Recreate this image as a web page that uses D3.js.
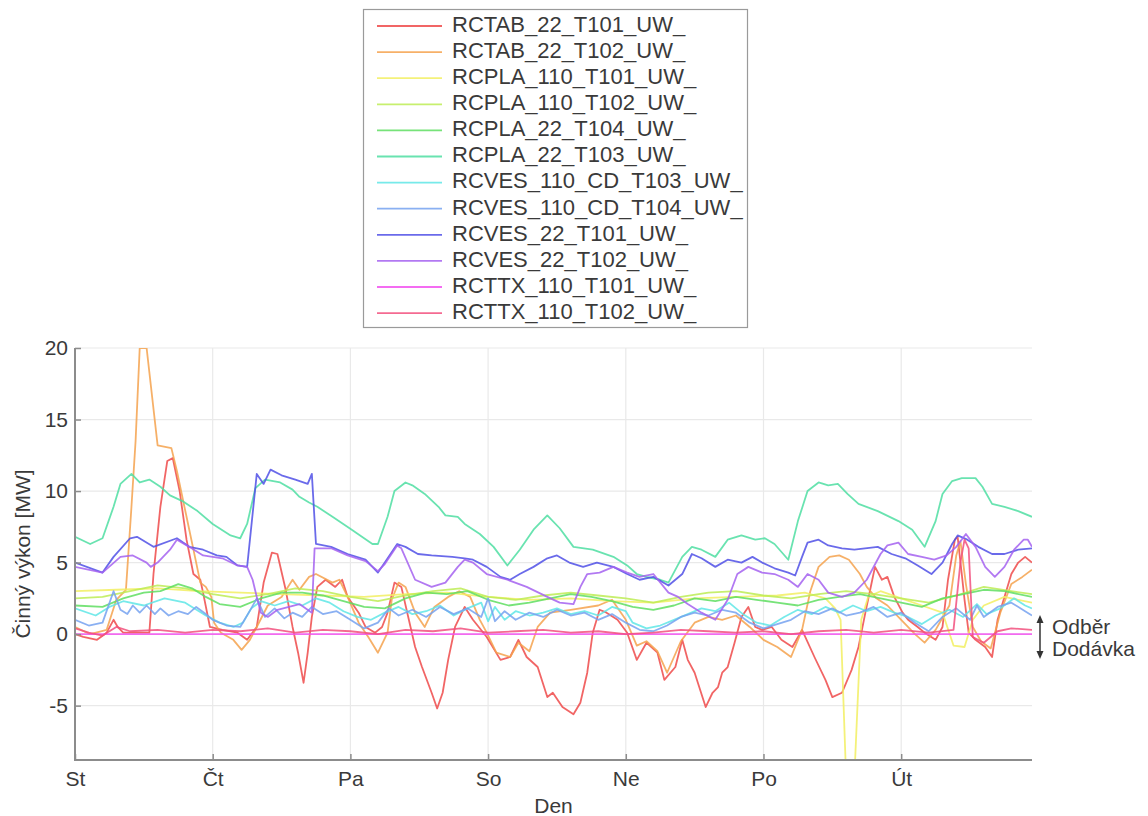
<!DOCTYPE html>
<html>
<head>
<meta charset="utf-8">
<script src="https://cdn.jsdelivr.net/npm/d3@7"></script>
<style>
  html, body { margin: 0; padding: 0; background: #fff; }
  svg { display: block; font-family: "Liberation Sans", Arial, Helvetica, sans-serif; }
</style>
</head>
<body>
<svg id="chart" width="1148" height="816"></svg>
<script>
// Day-of-week tick labels (Czech), one per day starting Wednesday
const dayLabels = ["St", "Čt", "Pa", "So", "Ne", "Po", "Út"];
const yTicks = [-5, 0, 5, 10, 15, 20];

const seriesNames = [
  "RCTAB_22_T101_UW_", "RCTAB_22_T102_UW_", "RCPLA_110_T101_UW_", "RCPLA_110_T102_UW_",
  "RCPLA_22_T104_UW_", "RCPLA_22_T103_UW_", "RCVES_110_CD_T103_UW_", "RCVES_110_CD_T104_UW_",
  "RCVES_22_T101_UW_", "RCVES_22_T102_UW_", "RCTTX_110_T101_UW_", "RCTTX_110_T102_UW_"
];
const seriesColors = [
  "#ee4a4a", "#f4a24e", "#f2ee62", "#bdec55", "#5fde62", "#4fdea2",
  "#5fe6e6", "#76a2f0", "#5050e6", "#a462f0", "#f252f0", "#f2507e"
];

// Active power [MW] per transformer, as [day, value] pairs (day 0 = Wednesday 00:00)
const rctab22T101 = [[0,0.0],[0.06,-0.2],[0.16,-0.4],[0.23,0.1],[0.28,1.0],[0.31,0.5],[0.35,0.1],[0.54,0.1],[0.57,4.2],[0.62,8.9],[0.67,12.1],[0.71,12.3],[0.76,10.0],[0.81,6.6],[0.86,4.2],[0.91,3.8],[0.93,2.9],[0.98,0.5],[1.07,0.3],[1.18,0.1],[1.25,-0.4],[1.32,0.5],[1.37,3.6],[1.43,5.7],[1.47,5.6],[1.53,3.1],[1.58,0.5],[1.62,-1.3],[1.66,-3.4],[1.69,-1.3],[1.72,1.2],[1.76,3.3],[1.82,3.8],[1.89,3.3],[1.94,3.8],[1.98,2.6],[2.06,1.5],[2.11,0.5],[2.18,0.1],[2.23,0.5],[2.27,1.5],[2.32,3.6],[2.37,3.3],[2.42,1.2],[2.47,-0.9],[2.52,-2.3],[2.59,-4.1],[2.63,-5.2],[2.67,-4.1],[2.71,-1.8],[2.76,0.5],[2.83,1.9],[2.89,1.0],[2.99,-0.2],[3.09,-1.8],[3.16,-1.6],[3.22,-0.4],[3.28,-1.6],[3.36,-2.3],[3.43,-4.4],[3.47,-4.1],[3.54,-5.1],[3.62,-5.6],[3.67,-4.8],[3.72,-2.7],[3.76,0.1],[3.81,1.7],[3.86,1.5],[3.94,1.0],[4.01,0.1],[4.08,-1.8],[4.15,-0.6],[4.23,-1.3],[4.28,-3.2],[4.36,-2.3],[4.41,-0.4],[4.45,-1.8],[4.50,-2.7],[4.58,-5.1],[4.63,-4.1],[4.67,-3.7],[4.70,-2.7],[4.74,-2.3],[4.79,-0.6],[4.84,1.2],[4.89,1.9],[4.94,0.5],[4.99,0.3],[5.06,0.5],[5.13,-0.4],[5.21,-0.9],[5.28,0.3],[5.37,-1.6],[5.45,-3.2],[5.50,-4.4],[5.57,-4.1],[5.64,-2.5],[5.69,-0.9],[5.74,1.5],[5.79,3.8],[5.81,4.7],[5.86,3.8],[5.90,4.0],[5.95,2.6],[6.01,1.5],[6.05,1.0],[6.12,0.5],[6.17,0.1],[6.25,-0.4],[6.30,0.5],[6.34,3.8],[6.39,6.6],[6.41,6.8],[6.44,4.2],[6.46,2.4],[6.49,0.1],[6.54,-0.4],[6.61,-0.9],[6.66,-1.6],[6.70,1.0],[6.75,2.6],[6.80,4.2],[6.85,5.0],[6.90,5.4],[6.95,5.0]];

const rctab22T102 = [[0,0.5],[0.11,0.0],[0.23,0.3],[0.30,2.4],[0.37,3.1],[0.41,8.9],[0.44,13.5],[0.47,20],[0.52,20],[0.60,13.2],[0.70,13.0],[0.74,11.4],[0.81,8.2],[0.88,5.0],[0.91,3.6],[0.95,3.3],[0.99,2.6],[1.01,0.8],[1.06,0.1],[1.15,-0.4],[1.21,-1.1],[1.27,-0.4],[1.32,0.5],[1.40,2.0],[1.50,2.6],[1.58,3.8],[1.63,3.1],[1.70,4.0],[1.75,4.2],[1.87,3.6],[1.92,3.8],[1.98,2.6],[2.06,0.8],[2.13,-0.2],[2.20,-1.3],[2.27,0.1],[2.30,2.4],[2.35,3.6],[2.40,3.3],[2.47,1.5],[2.54,0.5],[2.61,1.9],[2.71,2.6],[2.79,3.0],[2.87,2.6],[2.94,1.0],[2.99,0.1],[3.06,-1.3],[3.16,-1.6],[3.22,-0.6],[3.30,-1.2],[3.36,0.5],[3.45,1.5],[3.60,1.7],[3.80,2.0],[3.90,2.4],[4.00,1.0],[4.08,-0.8],[4.15,-0.5],[4.23,-1.2],[4.30,-2.7],[4.40,-0.5],[4.50,0.8],[4.60,1.2],[4.70,1.0],[4.80,1.3],[4.90,0.5],[5.00,-0.4],[5.10,-0.9],[5.20,-1.6],[5.28,0.3],[5.34,3.0],[5.40,4.7],[5.48,5.4],[5.55,5.5],[5.62,5.2],[5.70,4.2],[5.75,3.3],[5.82,2.5],[5.90,2.0],[6.00,1.0],[6.10,0.0],[6.17,-0.6],[6.25,0.3],[6.35,2.0],[6.40,5.5],[6.43,6.5],[6.47,3.5],[6.52,0.5],[6.58,-0.5],[6.65,-1.0],[6.72,1.5],[6.80,3.5],[6.88,4.0],[6.95,4.5]];

const rcpla110T101 = [[0,3.0],[0.3,3.1],[0.6,3.2],[0.9,3.0],[1.2,2.9],[1.5,2.8],[1.8,2.7],[2.1,2.6],[2.4,2.8],[2.7,2.9],[3.0,2.6],[3.3,2.4],[3.6,2.5],[3.9,2.3],[4.2,2.2],[4.5,2.5],[4.8,2.6],[5.1,2.7],[5.3,2.9],[5.45,2.5],[5.52,1.8],[5.56,1.0],[5.60,-10],[5.66,-10],[5.71,1.0],[5.76,2.6],[5.85,3.0],[6.0,2.5],[6.15,2.0],[6.3,1.5],[6.38,-0.8],[6.46,-0.9],[6.52,1.0],[6.6,2.0],[6.75,2.6],[6.95,2.2]];

const rcpla110T102 = [[0,2.5],[0.2,2.6],[0.4,3.0],[0.6,3.4],[0.8,3.2],[1.0,2.8],[1.2,2.5],[1.4,2.8],[1.6,3.2],[1.8,3.0],[2.0,2.6],[2.2,2.3],[2.4,2.7],[2.6,3.0],[2.8,3.2],[3.0,2.6],[3.2,2.4],[3.4,2.7],[3.6,2.9],[3.8,2.7],[4.0,2.5],[4.2,2.2],[4.4,2.6],[4.6,2.9],[4.8,3.0],[5.0,2.7],[5.2,2.5],[5.4,2.8],[5.6,3.0],[5.8,2.8],[6.0,2.5],[6.2,2.2],[6.4,2.7],[6.6,3.3],[6.8,3.0],[6.95,2.8]];

const rcpla22T104 = [[0,2.0],[0.2,1.9],[0.35,2.5],[0.5,2.9],[0.62,3.0],[0.75,3.5],[0.85,3.2],[0.95,2.6],[1.05,2.1],[1.2,1.9],[1.35,2.5],[1.5,2.9],[1.65,2.9],[1.8,2.7],[1.95,2.3],[2.1,1.9],[2.25,1.8],[2.4,2.5],[2.55,2.9],[2.7,2.8],[2.85,3.0],[3.0,2.4],[3.15,2.0],[3.3,2.2],[3.45,2.5],[3.6,2.8],[3.75,2.6],[3.9,2.3],[4.05,1.9],[4.2,1.7],[4.35,2.0],[4.5,2.5],[4.65,2.3],[4.8,2.6],[4.95,2.4],[5.1,2.2],[5.25,2.0],[5.4,2.4],[5.55,2.6],[5.7,2.8],[5.85,2.5],[6.0,2.2],[6.15,1.9],[6.3,2.5],[6.45,2.8],[6.6,3.1],[6.75,3.0],[6.95,2.6]];

const rcpla22T103 = [[0,6.8],[0.11,6.3],[0.20,6.7],[0.28,8.9],[0.33,10.5],[0.41,11.2],[0.47,10.6],[0.54,10.8],[0.62,10.3],[0.69,9.7],[0.78,9.3],[0.89,8.6],[1.00,7.7],[1.13,6.9],[1.20,6.7],[1.25,7.7],[1.31,10.2],[1.38,10.8],[1.49,10.6],[1.58,10.1],[1.63,9.6],[1.70,9.2],[1.76,8.9],[1.87,8.2],[2.01,7.3],[2.16,6.3],[2.20,6.3],[2.27,8.2],[2.32,10.0],[2.40,10.6],[2.45,10.4],[2.54,9.8],[2.64,8.9],[2.69,8.3],[2.78,8.2],[2.83,7.7],[2.94,7.0],[3.04,6.1],[3.14,4.8],[3.23,5.9],[3.33,7.3],[3.43,8.3],[3.52,7.4],[3.62,6.1],[3.76,5.9],[3.91,5.4],[4.01,4.8],[4.08,4.2],[4.15,4.0],[4.25,3.8],[4.31,3.6],[4.41,5.4],[4.48,6.1],[4.55,5.9],[4.65,5.4],[4.74,6.6],[4.84,6.9],[4.94,6.6],[5.01,6.7],[5.08,6.3],[5.18,5.2],[5.25,7.9],[5.32,10.0],[5.40,10.6],[5.47,10.4],[5.54,10.5],[5.61,9.8],[5.69,9.1],[5.83,8.6],[5.98,7.9],[6.08,7.3],[6.17,6.1],[6.25,7.9],[6.30,9.8],[6.37,10.7],[6.44,10.9],[6.54,10.9],[6.59,10.3],[6.66,9.1],[6.75,8.9],[6.85,8.6],[6.95,8.2]];

const rcves110CdT103 = [[0,1.8],[0.15,1.3],[0.25,1.9],[0.35,2.3],[0.5,2.0],[0.65,2.5],[0.8,2.2],[0.95,1.3],[1.05,0.8],[1.15,0.5],[1.22,0.8],[1.28,1.8],[1.35,2.3],[1.45,2.0],[1.55,2.3],[1.65,2.0],[1.75,2.5],[1.85,2.2],[1.95,1.6],[2.05,1.2],[2.15,1.0],[2.25,1.5],[2.35,1.9],[2.45,1.4],[2.55,1.6],[2.65,2.0],[2.75,1.3],[2.85,1.8],[2.95,2.2],[3.0,0.9],[3.05,1.9],[3.12,1.0],[3.2,1.6],[3.3,1.3],[3.4,1.5],[3.5,1.8],[3.6,1.4],[3.7,1.6],[3.8,1.3],[3.9,1.9],[4.0,1.6],[4.05,0.8],[4.15,0.4],[4.25,0.6],[4.35,1.0],[4.45,1.4],[4.55,1.8],[4.65,1.6],[4.75,2.2],[4.85,1.4],[4.95,0.8],[5.05,0.6],[5.15,1.2],[5.25,1.7],[5.35,1.4],[5.45,1.9],[5.55,1.5],[5.65,2.0],[5.75,1.6],[5.85,1.9],[5.95,1.5],[6.05,1.2],[6.15,0.7],[6.25,1.3],[6.35,1.7],[6.45,1.2],[6.55,2.1],[6.62,1.4],[6.72,1.8],[6.82,2.5],[6.9,2.0],[6.95,1.8]];

const rcves110CdT104 = [[0,1.0],[0.1,0.6],[0.2,0.8],[0.28,3.0],[0.33,1.7],[0.38,1.4],[0.42,2.0],[0.47,1.5],[0.52,2.0],[0.58,1.4],[0.62,1.8],[0.68,1.3],[0.75,1.6],[0.82,1.4],[0.88,1.9],[0.95,1.4],[1.0,1.0],[1.1,0.6],[1.2,0.5],[1.28,1.8],[1.32,2.5],[1.38,1.2],[1.45,1.8],[1.52,1.1],[1.58,1.5],[1.65,1.2],[1.72,1.9],[1.80,1.4],[1.9,1.6],[2.0,1.0],[2.1,0.4],[2.2,0.8],[2.28,1.8],[2.35,1.3],[2.45,1.7],[2.55,1.2],[2.65,1.9],[2.75,1.4],[2.85,1.8],[2.95,1.2],[3.0,2.5],[3.05,0.9],[3.12,1.6],[3.2,1.0],[3.3,1.5],[3.4,1.2],[3.5,1.7],[3.6,1.3],[3.7,1.5],[3.8,1.0],[3.9,1.4],[4.0,0.8],[4.1,0.3],[4.2,0.2],[4.3,0.6],[4.4,1.2],[4.5,1.5],[4.6,1.3],[4.7,1.7],[4.8,1.5],[4.9,0.8],[5.0,0.4],[5.1,0.7],[5.2,1.0],[5.3,1.6],[5.4,1.4],[5.5,1.8],[5.6,1.3],[5.7,1.5],[5.8,1.9],[5.9,1.2],[6.0,1.5],[6.1,0.8],[6.2,0.2],[6.3,1.2],[6.4,1.8],[6.5,1.0],[6.55,2.0],[6.6,1.2],[6.7,1.9],[6.8,2.2],[6.9,1.6],[6.95,1.3]];

const rcves22T101 = [[0,5.0],[0.20,4.3],[0.28,5.4],[0.40,6.7],[0.45,6.8],[0.57,6.1],[0.74,6.7],[0.83,6.1],[0.93,5.9],[1.03,5.5],[1.10,5.4],[1.18,4.8],[1.25,4.7],[1.32,11.2],[1.37,10.5],[1.42,11.5],[1.50,11.1],[1.60,10.8],[1.69,10.5],[1.72,11.2],[1.75,6.3],[1.86,6.1],[1.98,5.6],[2.11,5.2],[2.20,4.3],[2.25,5.0],[2.34,6.3],[2.40,6.1],[2.49,5.6],[2.59,5.5],[2.74,5.4],[2.83,5.3],[2.89,5.2],[2.99,4.7],[3.09,4.0],[3.16,3.8],[3.23,4.2],[3.33,4.7],[3.43,5.3],[3.50,5.5],[3.59,5.0],[3.69,4.7],[3.79,5.0],[3.91,4.7],[4.01,4.2],[4.10,3.8],[4.20,4.0],[4.31,3.4],[4.41,4.2],[4.48,5.6],[4.55,5.3],[4.65,4.7],[4.74,5.2],[4.84,5.0],[4.92,5.4],[4.99,5.0],[5.08,4.6],[5.18,4.3],[5.23,4.1],[5.28,5.4],[5.32,6.4],[5.40,6.6],[5.47,6.2],[5.57,6.0],[5.66,5.9],[5.83,6.1],[5.93,5.6],[6.03,5.3],[6.12,4.8],[6.22,4.2],[6.30,5.0],[6.37,6.3],[6.41,6.9],[6.48,6.6],[6.56,6.1],[6.66,5.6],[6.75,5.6],[6.85,5.9],[6.95,6.0]];

const rcves22T102 = [[0,4.7],[0.20,4.3],[0.33,5.4],[0.42,5.5],[0.52,5.0],[0.55,4.7],[0.60,5.0],[0.69,5.9],[0.74,6.6],[0.83,6.1],[0.93,5.5],[1.07,5.3],[1.18,4.8],[1.25,4.7],[1.29,3.8],[1.32,2.6],[1.35,1.5],[1.40,1.2],[1.47,1.7],[1.63,2.1],[1.72,1.5],[1.74,6.0],[1.86,6.0],[1.98,5.5],[2.11,5.1],[2.20,4.4],[2.25,4.9],[2.34,6.2],[2.37,6.0],[2.47,3.8],[2.59,3.3],[2.69,3.6],[2.78,4.7],[2.83,5.2],[2.89,5.0],[2.99,4.2],[3.14,3.8],[3.28,3.3],[3.43,2.6],[3.52,2.2],[3.62,2.1],[3.67,3.3],[3.72,4.2],[3.81,4.3],[3.91,4.7],[4.01,4.3],[4.10,4.0],[4.20,4.2],[4.31,2.9],[4.38,2.6],[4.45,2.1],[4.55,1.5],[4.65,1.0],[4.74,2.4],[4.81,4.2],[4.89,4.7],[4.99,4.3],[5.08,4.2],[5.18,3.8],[5.25,3.3],[5.32,4.2],[5.40,3.8],[5.47,2.9],[5.57,2.6],[5.66,2.9],[5.75,3.8],[5.85,5.6],[5.90,6.2],[5.98,6.4],[6.05,5.6],[6.15,5.4],[6.24,5.2],[6.33,5.5],[6.40,6.1],[6.47,7.0],[6.54,6.1],[6.61,4.7],[6.68,4.0],[6.75,4.7],[6.82,5.9],[6.89,6.6],[6.92,6.6],[6.95,6.1]];

const rcttx110T101 = [[0,0],[1,0],[2,0],[3,0],[4,0],[5,0],[6,0],[6.95,0]];

const rcttx110T102 = [[0,0.4],[0.1,0.1],[0.2,-0.1],[0.3,0.5],[0.4,0.2],[0.6,0.3],[0.8,0.1],[1.0,0.3],[1.2,0.2],[1.4,0.4],[1.6,0.1],[1.8,0.3],[2.0,0.2],[2.2,0.0],[2.4,0.3],[2.6,0.2],[2.8,0.4],[3.0,0.1],[3.2,0.2],[3.4,0.3],[3.6,0.1],[3.8,0.2],[4.0,0.0],[4.2,0.1],[4.4,0.3],[4.6,0.2],[4.8,0.1],[5.0,0.2],[5.2,0.0],[5.4,0.2],[5.6,0.3],[5.8,0.1],[6.0,0.3],[6.2,0.1],[6.38,0.3],[6.43,5.0],[6.46,6.6],[6.49,6.0],[6.52,-0.2],[6.6,-0.6],[6.7,0.2],[6.8,0.4],[6.95,0.3]];

const seriesValues = [
  rctab22T101, rctab22T102, rcpla110T101, rcpla110T102, rcpla22T104, rcpla22T103,
  rcves110CdT103, rcves110CdT104, rcves22T101, rcves22T102, rcttx110T101, rcttx110T102
];

// ---- layout ----
const svg = d3.select("#chart");
const plot = { left: 75, right: 1032, top: 348, bottom: 760 };
const font = 21;
const legendFont = 22;
const textColor = "#3a3a3a";
const axisColor = "#8c8c8c";

const x = d3.scaleLinear().domain([0, 6.95]).range([plot.left, plot.right]);
const y = d3.scaleLinear().domain([-8.8, 20]).range([plot.bottom, plot.top]);

svg.append("defs").append("clipPath").attr("id", "plotClip")
  .append("rect")
  .attr("x", plot.left).attr("y", plot.top)
  .attr("width", plot.right - plot.left).attr("height", plot.bottom - plot.top);

// grid
const grid = svg.append("g").attr("stroke", "#e9e9e9").attr("stroke-width", 1.2);
grid.selectAll("line.h").data(yTicks).join("line")
  .attr("x1", plot.left).attr("x2", plot.right)
  .attr("y1", d => y(d)).attr("y2", d => y(d));
grid.selectAll("line.v").data(d3.range(1, dayLabels.length)).join("line")
  .attr("x1", d => x(d)).attr("x2", d => x(d))
  .attr("y1", plot.top).attr("y2", plot.bottom);

// series lines
const line = d3.line().x(d => x(d[0])).y(d => y(d[1]));
svg.append("g").attr("clip-path", "url(#plotClip)")
  .selectAll("path").data(seriesValues).join("path")
  .attr("d", line)
  .attr("fill", "none")
  .attr("stroke", (d, i) => seriesColors[i])
  .attr("stroke-width", 1.8)
  .attr("stroke-opacity", 0.85)
  .attr("stroke-linejoin", "round");

// axes (plain hyphen for negative numbers)
const yAxis = d3.axisLeft(y).tickValues(yTicks).tickFormat(d => String(d))
  .tickSizeInner(-6).tickSizeOuter(0).tickPadding(7);
const gy = svg.append("g").attr("transform", `translate(${plot.left},0)`).call(yAxis);
gy.selectAll(".tick text").attr("x", -7);
const xAxis = d3.axisBottom(x).tickValues(d3.range(dayLabels.length))
  .tickFormat(i => dayLabels[i]).tickSizeInner(-6).tickSizeOuter(0).tickPadding(11);
const gx = svg.append("g").attr("transform", `translate(0,${plot.bottom})`).call(xAxis);
gx.selectAll(".tick text").attr("y", 11);
[gx, gy].forEach(g => {
  g.select(".domain").attr("stroke", axisColor).attr("stroke-width", 2);
  g.selectAll(".tick line").attr("stroke", axisColor).attr("stroke-width", 1.5);
  g.selectAll(".tick text").attr("fill", textColor).attr("font-size", font)
    .attr("font-family", "'Liberation Sans', Arial, sans-serif");
});
gy.select(".domain").attr("d", `M0,${plot.bottom + 1}V${plot.top}`);
gx.select(".domain").attr("d", `M${plot.left - 1},0H${plot.right}`);

// axis titles
svg.append("text")
  .attr("transform", `translate(24,${(plot.top + plot.bottom) / 2}) rotate(-90)`)
  .attr("text-anchor", "middle").attr("dominant-baseline", "middle")
  .attr("font-size", font).attr("fill", textColor)
  .text("Činný výkon [MW]");
svg.append("text")
  .attr("x", (plot.left + plot.right) / 2).attr("y", 807)
  .attr("text-anchor", "middle").attr("dominant-baseline", "middle")
  .attr("font-size", font).attr("fill", textColor)
  .text("Den");

// direction note on the right: above zero = consumption, below = supply
const note = svg.append("g").attr("stroke", "#333").attr("fill", "#333");
note.append("line").attr("x1", 1040).attr("x2", 1040).attr("y1", 618).attr("y2", 656).attr("stroke-width", 1.5);
note.append("path").attr("d", "M1036.5,623 L1040,615 L1043.5,623 Z").attr("stroke", "none");
note.append("path").attr("d", "M1036.5,651 L1040,659 L1043.5,651 Z").attr("stroke", "none");
svg.append("text").attr("x", 1052).attr("y", 628).attr("dominant-baseline", "middle")
  .attr("font-size", font).attr("fill", textColor).text("Odběr");
svg.append("text").attr("x", 1052).attr("y", 650).attr("dominant-baseline", "middle")
  .attr("font-size", font).attr("fill", textColor).text("Dodávka");

// legend
const legend = svg.append("g");
legend.append("rect")
  .attr("x", 363.5).attr("y", 9.5).attr("width", 384).attr("height", 318)
  .attr("fill", "#fff").attr("stroke", "#9a9a9a").attr("stroke-width", 1.2);
const rows = legend.selectAll("g.row").data(seriesNames).join("g")
  .attr("transform", (d, i) => `translate(0,${26 + i * 26.1})`);
rows.append("line").attr("x1", 377).attr("x2", 442).attr("y1", 0).attr("y2", 0)
  .attr("stroke", (d, i) => seriesColors[i]).attr("stroke-width", 1.8).attr("stroke-opacity", 0.85);
rows.append("text").attr("x", 452).attr("y", 0).attr("dominant-baseline", "middle")
  .attr("font-size", legendFont).attr("fill", textColor).text(d => d);
</script>
</body>
</html>
